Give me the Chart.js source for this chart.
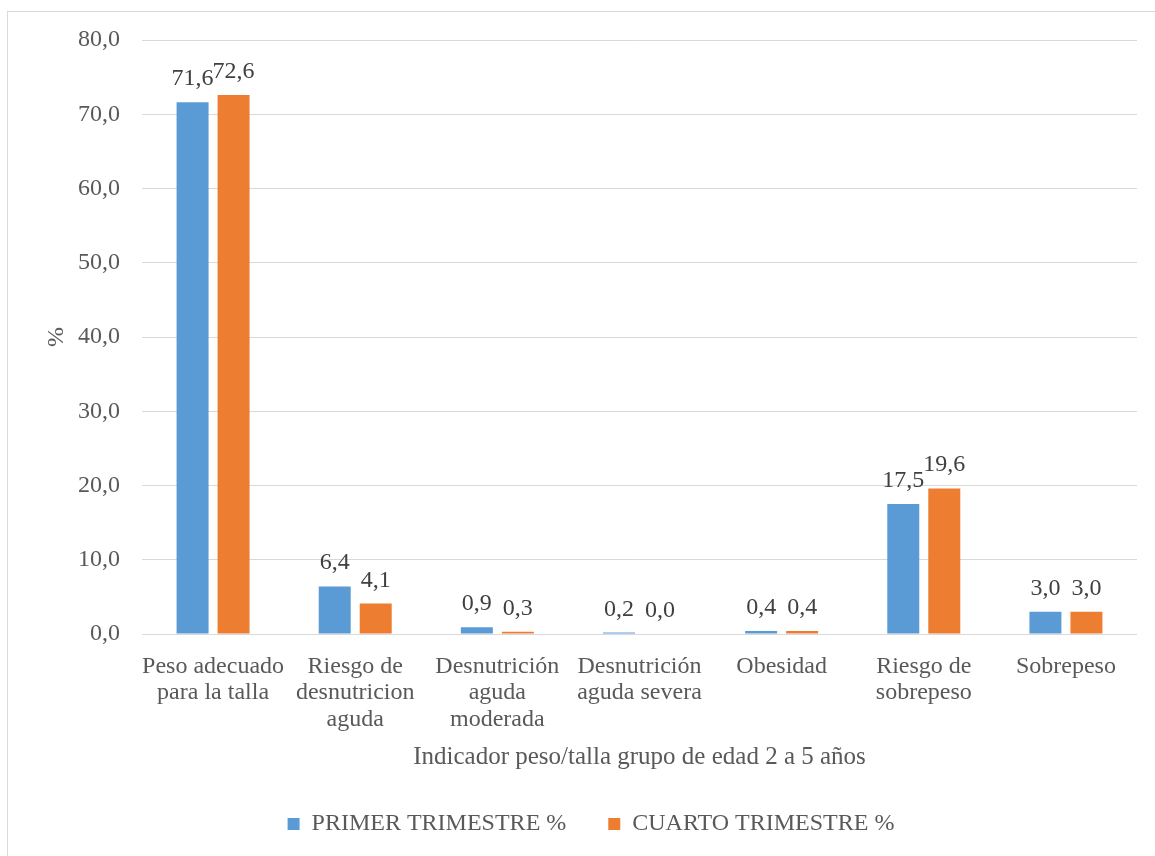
<!DOCTYPE html>
<html>
<head>
<meta charset="utf-8">
<script src="https://cdn.jsdelivr.net/npm/chart.js@4/dist/chart.umd.min.js"></script>
<style>
  html, body { margin: 0; padding: 0; background: #fff; }
  #wrap { position: relative; width: 1155px; height: 856px; }
</style>
</head>
<body>
<div id="wrap"><canvas id="grafico" width="1155" height="856"></canvas></div>
<script>
const categorias = [
  ["Peso adecuado", "para la talla"],
  ["Riesgo de", "desnutricion", "aguda"],
  ["Desnutrición", "aguda", "moderada"],
  ["Desnutrición", "aguda severa"],
  "Obesidad",
  ["Riesgo de", "sobrepeso"],
  "Sobrepeso"
];
const primerTrimestre = [71.6, 6.4, 0.9, 0.2, 0.4, 17.5, 3.0];
const cuartoTrimestre = [72.6, 4.1, 0.3, 0.0, 0.4, 19.6, 3.0];
const ticksY = [0, 10, 20, 30, 40, 50, 60, 70, 80];

const fuente = "'Liberation Serif', 'Times New Roman', serif";
const fmt = v => v.toFixed(1).replace(".", ",");

// borde del grafico
const bordePlugin = {
  id: "borde",
  beforeDraw(chart) {
    const ctx = chart.ctx;
    ctx.save();
    ctx.fillStyle = "#fff";
    ctx.fillRect(0, 0, chart.width, chart.height);
    ctx.strokeStyle = "#d9d9d9";
    ctx.lineWidth = 1;
    ctx.strokeRect(7.5, 11.5, chart.width + 20, chart.height + 20);
    ctx.restore();
  }
};

// etiquetas de valor encima de las barras
const etiquetasPlugin = {
  id: "etiquetas",
  afterDatasetsDraw(chart) {
    const ctx = chart.ctx;
    ctx.save();
    ctx.font = "24px " + fuente;
    ctx.fillStyle = "#404040";
    ctx.textAlign = "center";
    ctx.textBaseline = "alphabetic";
    chart.data.datasets.forEach((ds, i) => {
      chart.getDatasetMeta(i).data.forEach((bar, j) => {
        ctx.fillText(fmt(ds.data[j]), bar.x, bar.y - 17);
      });
    });
    ctx.restore();
  }
};

new Chart(document.getElementById("grafico"), {
  type: "bar",
  data: {
    labels: categorias,
    datasets: [
      {
        label: "PRIMER TRIMESTRE %",
        data: primerTrimestre,
        backgroundColor: "#5B9BD5",
        categoryPercentage: 0.577,
        barPercentage: 0.78
      },
      {
        label: "CUARTO TRIMESTRE %",
        data: cuartoTrimestre,
        backgroundColor: "#ED7D31",
        categoryPercentage: 0.577,
        barPercentage: 0.78
      }
    ]
  },
  options: {
    responsive: false,
    animation: false,
    devicePixelRatio: 1,
    layout: { padding: { left: 45, right: 18, top: 40, bottom: 10 } },
    plugins: {
      tooltip: { enabled: false },
      legend: {
        position: "bottom",
        labels: {
          boxWidth: 12,
          boxHeight: 12,
          padding: 42,
          color: "#595959",
          font: { family: fuente, size: 24 }
        }
      }
    },
    scales: {
      x: {
        grid: { display: false },
        border: { display: false },
        ticks: {
          color: "#595959",
          font: { family: fuente, size: 24, lineHeight: 1.11 },
          padding: 11,
          maxRotation: 0,
          autoSkip: false
        },
        title: {
          display: true,
          text: "Indicador peso/talla grupo de edad 2 a 5 años",
          color: "#595959",
          font: { family: fuente, size: 25, lineHeight: 1 },
          padding: { top: 0, bottom: 0 }
        },
        afterFit(scale) { scale.height = 136; }
      },
      y: {
        min: 0,
        max: 80,
        afterBuildTicks(scale) { scale.ticks = ticksY.map(v => ({ value: v })); },
        grid: { color: "#d9d9d9", lineWidth: 1, drawTicks: false },
        border: { display: false },
        ticks: {
          color: "#595959",
          font: { family: fuente, size: 24 },
          padding: 22,
          callback: v => fmt(v)
        },
        title: {
          display: true,
          text: "%",
          color: "#595959",
          font: { family: fuente, size: 24, lineHeight: 1 },
          padding: { top: 0, bottom: 0 }
        },
        afterFit(scale) { scale.width = 97; }
      }
    }
  },
  plugins: [bordePlugin, etiquetasPlugin]
});
</script>
</body>
</html>
